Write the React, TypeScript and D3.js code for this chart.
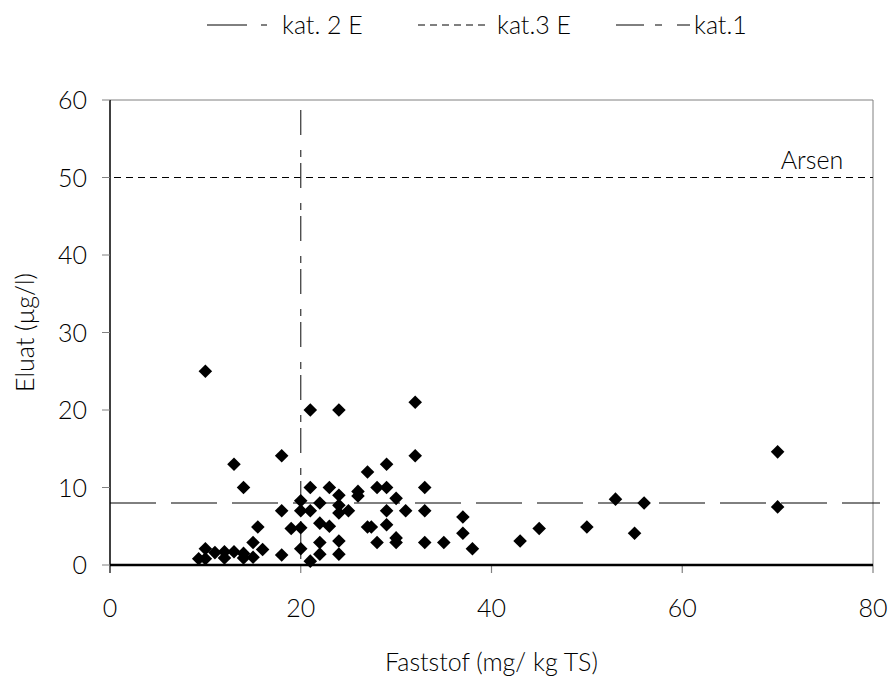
import React from "react";
import * as d3 from "d3";

const faststof = [10,21,24,32,32,18,13,29,27,14,21,23,28,29,33,26,26,24,30,20,22,24,24,25,18,20,21,29,31,33,15.5,19,20,22,23,27,27.4,29,30,30,33,35,28,22,24,15,16,20,18,22,24,21,9.3,10,10,11,12,12,13,14,14,15,37,37,38,43,45,50,53,55,56,70,70];
const eluat = [25,20,20,21,14.1,14.1,13,13,12,10,10,10,10,10,10,9.5,8.9,9,8.6,8.3,8,7.7,6.7,7,7,7,7,7,7,7,4.9,4.7,4.8,5.4,5,4.9,4.9,5.2,3.5,2.9,2.9,2.9,2.9,2.9,3.1,2.9,2,2.1,1.3,1.4,1.4,0.5,0.8,2.1,0.8,1.6,1.7,0.9,1.7,1.5,0.9,1,6.2,4.1,2.1,3.1,4.7,4.9,8.5,4.1,8,14.6,7.5];

const xTicks = [0, 20, 40, 60, 80];
const yTicks = [0, 10, 20, 30, 40, 50, 60];
const kat1 = 8;
const kat2E = 20;
const kat3E = 50;
const legendLabels = ["kat. 2 E", "kat.3 E", "kat.1"];

const W = 893, H = 677;
const L = 110, R = 873, T = 100, B = 565;
const FONT = "Lato, 'Open Sans', sans-serif";

export default function App() {
  const x = d3.scaleLinear().domain([0, 80]).range([L, R]);
  const y = d3.scaleLinear().domain([0, 60]).range([B, T]);
  const diamond = d3.symbol().type(d3.symbolSquare).size(92)();
  const grey = "#808080";
  const fs = 25;
  const fw = 300;
  return (
    <svg width={W} height={H} style={{ position: "absolute", left: 0, top: 0, background: "#fff" }}>
      <rect x={0} y={0} width={W} height={H} fill="#fff" />
      {/* legend */}
      <g fontFamily={FONT} fontSize={fs} fontWeight={fw} fill="#000">
        <line x1={207} x2={281} y1={25} y2={25} stroke="#000" strokeWidth={1} strokeDasharray="40,14,6,100" />
        <text x={282} y={34}>{legendLabels[0]}</text>
        <line x1={418} x2={488} y1={25} y2={25} stroke="#000" strokeWidth={1} strokeDasharray="7,5" />
        <text x={497} y={34}>{legendLabels[1]}</text>
        <line x1={616} x2={692} y1={25} y2={25} stroke="#000" strokeWidth={1} strokeDasharray="28,11,7,15,13" />
        <text x={694} y={34}>{legendLabels[2]}</text>
      </g>
      {/* frame */}
      <line x1={L} x2={R} y1={T} y2={T} stroke={grey} strokeWidth={1} />
      <line x1={R} x2={R} y1={T} y2={B} stroke={grey} strokeWidth={1} />
      {/* reference lines */}
      <line x1={L - 8} x2={R} y1={y(kat3E)} y2={y(kat3E)} stroke="#000" strokeWidth={1} strokeDasharray="7,5" />
      <line x1={x(kat2E)} x2={x(kat2E)} y1={T + 10} y2={B + 8} stroke="#333" strokeWidth={1.2} strokeDasharray="25,15,7,6" />
      <line x1={L} x2={R + 7} y1={y(kat1)} y2={y(kat1)} stroke="#000" strokeWidth={1} strokeDasharray="46,15" />
      {/* y axis */}
      <line x1={L} x2={L} y1={T} y2={B + 8} stroke="#000" strokeWidth={1.5} />
      {yTicks.map((t) => (
        <g key={t}>
          <line x1={L - 8} x2={L} y1={y(t)} y2={y(t)} stroke={grey} strokeWidth={1} />
          <text x={L - 23} y={y(t)} dy="0.36em" textAnchor="end" fontFamily={FONT} fontWeight={fw} fontSize={fs}>{t}</text>
        </g>
      ))}
      {/* x axis */}
      {xTicks.map((t) => (
        <g key={t}>
          <line x1={x(t)} x2={x(t)} y1={B} y2={B + 8} stroke={grey} strokeWidth={1.2} />
          <text x={x(t)} y={608} dy="0.36em" textAnchor="middle" fontFamily={FONT} fontWeight={fw} fontSize={fs}>{t}</text>
        </g>
      ))}
      {/* points */}
      {faststof.map((v, i) => (
        <path key={i} d={diamond} transform={`translate(${x(v)},${y(eluat[i])}) rotate(45)`} fill="#000" />
      ))}
      <line x1={L} x2={R} y1={B} y2={B} stroke="#000" strokeWidth={2.5} />
      <text x={812} y={160} dy="0.36em" textAnchor="middle" fontFamily={FONT} fontWeight={fw} fontSize={fs}>Arsen</text>
      <text x={(L + R) / 2} y={662} dy="0.36em" textAnchor="middle" fontFamily={FONT} fontWeight={fw} fontSize={fs}>Faststof (mg/ kg TS)</text>
      <text transform={`translate(25,${(T + B) / 2}) rotate(-90)`} dy="0.36em" textAnchor="middle" fontFamily={FONT} fontWeight={fw} fontSize={fs}>Eluat (µg/l)</text>
    </svg>
  );
}
